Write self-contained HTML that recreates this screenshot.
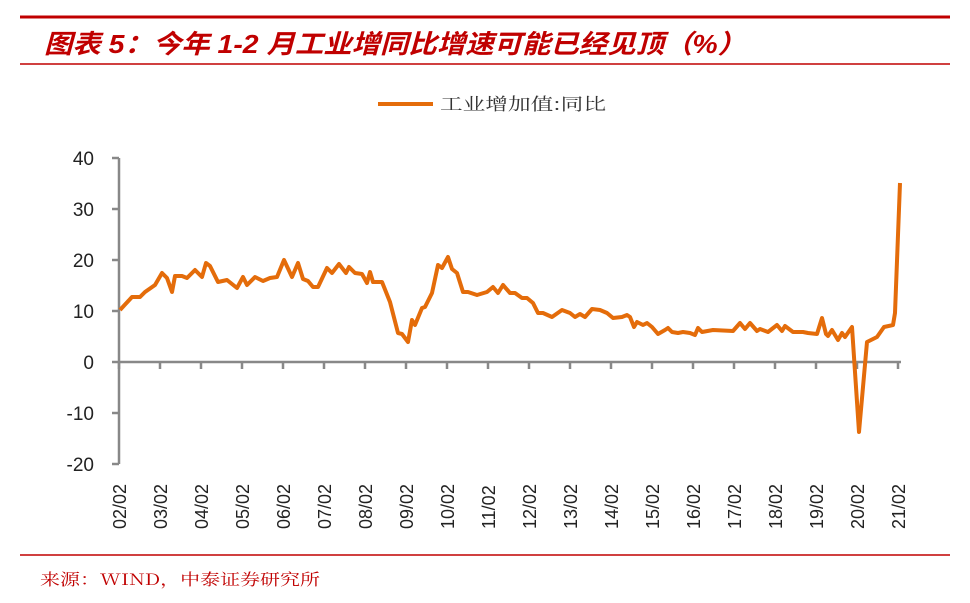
<!DOCTYPE html>
<html><head><meta charset="utf-8"><style>
body{margin:0;background:#fff;width:970px;height:603px;overflow:hidden;font-family:"Liberation Sans","Noto Sans CJK SC",sans-serif}
</style></head><body>
<svg width="970" height="603" xmlns="http://www.w3.org/2000/svg" style="position:absolute;left:0;top:0">
<line x1="20" y1="17" x2="950" y2="17" stroke="#c00000" stroke-width="3"/>
<text x="44" y="53" font-size="26" font-style="italic" font-weight="bold" fill="#c00000" textLength="702" lengthAdjust="spacingAndGlyphs" font-family="Liberation Sans,Noto Sans CJK SC,sans-serif">图表 5：今年 1-2 月工业增同比增速可能已经见顶（%）</text>
<line x1="20" y1="64" x2="950" y2="64" stroke="#c00000" stroke-width="1.5"/>
<line x1="378" y1="104" x2="433" y2="104" stroke="#e46c0a" stroke-width="4"/>
<text x="440" y="110" font-size="17" fill="#333" textLength="166" lengthAdjust="spacingAndGlyphs" font-family="Noto Serif CJK SC,serif">工业增加值:同比</text>
<g font-size="19" fill="#222" text-anchor="end">
<text x="94" y="165">40</text><text x="94" y="216">30</text><text x="94" y="267">20</text><text x="94" y="318">10</text><text x="94" y="369">0</text><text x="94" y="420">-10</text><text x="94" y="471">-20</text>
</g>
<g stroke="#888" stroke-width="2.5">
<line x1="119" y1="158" x2="119" y2="464"/>
<line x1="112" y1="158" x2="119" y2="158"/><line x1="112" y1="209" x2="119" y2="209"/><line x1="112" y1="260" x2="119" y2="260"/><line x1="112" y1="311" x2="119" y2="311"/><line x1="112" y1="362" x2="119" y2="362"/><line x1="112" y1="413" x2="119" y2="413"/><line x1="112" y1="464" x2="119" y2="464"/>
<line x1="119" y1="362" x2="901" y2="362"/>
<path d="M119 362v7M160 362v7M201 362v7M242 362v7M283 362v7M324 362v7M365 362v7M406 362v7M447 362v7M488 362v7M529 362v7M570 362v7M611 362v7M652 362v7M693 362v7M734 362v7M775 362v7M816 362v7M857 362v7M898 362v7"/>
</g>
<g font-size="18" fill="#222" text-anchor="start">
<text transform="translate(126,529) rotate(-90)">02/02</text><text transform="translate(167,529) rotate(-90)">03/02</text><text transform="translate(208,529) rotate(-90)">04/02</text><text transform="translate(249,529) rotate(-90)">05/02</text><text transform="translate(290,529) rotate(-90)">06/02</text><text transform="translate(331,529) rotate(-90)">07/02</text><text transform="translate(372,529) rotate(-90)">08/02</text><text transform="translate(413,529) rotate(-90)">09/02</text><text transform="translate(454,529) rotate(-90)">10/02</text><text transform="translate(495,529) rotate(-90)">11/02</text><text transform="translate(536,529) rotate(-90)">12/02</text><text transform="translate(577,529) rotate(-90)">13/02</text><text transform="translate(618,529) rotate(-90)">14/02</text><text transform="translate(659,529) rotate(-90)">15/02</text><text transform="translate(700,529) rotate(-90)">16/02</text><text transform="translate(741,529) rotate(-90)">17/02</text><text transform="translate(782,529) rotate(-90)">18/02</text><text transform="translate(823,529) rotate(-90)">19/02</text><text transform="translate(864,529) rotate(-90)">20/02</text><text transform="translate(905,529) rotate(-90)">21/02</text>
</g>
<polyline fill="none" stroke="#e46c0a" stroke-width="4" stroke-linejoin="round" points="120,310 132,297 140,297 145,292 155,285 162,273 167,278 172,292 175,276 182,276 187,278 195,270 202,277 206,263 210,266 218,282 227,280 237,288 243,277 247,285 255,277 263,281 270,278 277,277 284,260 292,277 298,263 303,279 308,281 313,287 318,287 327,268 332,273 339,264 346,273 349,267 355,273 362,274 367,283 370,272 373,282 382,282 390,302 398,333 402,334 408,342 412,320 415,325 422,308 425,307 432,293 438,265 442,268 448,257 452,269 457,273 463,292 468,292 477,295 487,292 493,287 498,293 503,285 510,293 515,293 522,298 527,298 533,303 538,313 543,313 552,317 562,310 570,313 575,317 580,314 585,317 592,309 600,310 607,313 613,318 622,317 627,315 630,317 634,327 637,322 643,325 647,323 652,327 658,334 665,330 668,328 672,332 678,333 683,332 690,333 695,335 698,328 702,332 713,330 733,331 740,323 745,329 750,323 757,331 760,329 768,332 777,325 782,331 785,326 793,332 803,332 808,333 817,334 822,318 826,334 828,336 832,330 838,340 842,333 845,337 852,327 859,432 867,342 877,337 884,327 893,325 895,313 900,183"/>
<line x1="20" y1="555" x2="950" y2="555" stroke="#c00000" stroke-width="1.5"/>
<text x="40" y="585" font-size="16" fill="#c00000" textLength="280" lengthAdjust="spacingAndGlyphs" font-family="Noto Serif CJK SC,serif">来源：WIND，中泰证券研究所</text>
</svg>
</body></html>
